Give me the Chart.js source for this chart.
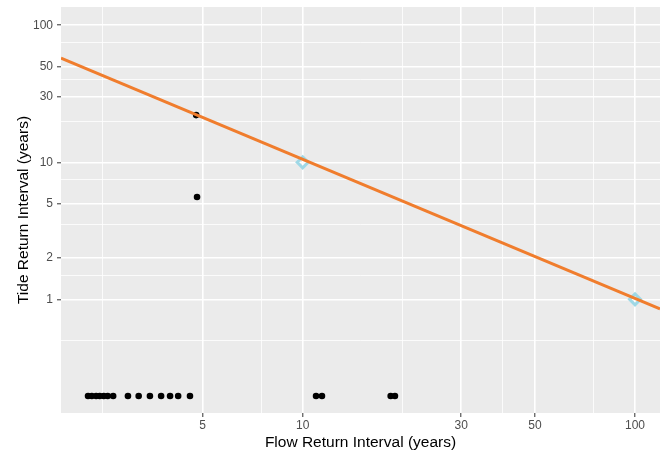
<!DOCTYPE html>
<html><head><meta charset="utf-8">
<script src="https://cdn.jsdelivr.net/npm/chart.js@4.4.1/dist/chart.umd.min.js"></script>
<style>html,body{margin:0;padding:0;background:#fff}#wrap{width:660px;height:456px;position:relative}</style>
</head><body><div id="wrap"><canvas id="c"></canvas></div>
<script>
// Observed events (flow return interval vs tide return interval, years)
const flowInterval = [2.26, 2.32, 2.39, 2.45, 2.52, 2.59, 2.69, 2.98, 3.21, 3.47, 3.75, 3.99, 4.22, 4.58, 4.78, 4.81, 10.97, 11.43, 18.4, 18.95];
const tideInterval = [0.197, 0.197, 0.197, 0.197, 0.197, 0.197, 0.197, 0.197, 0.197, 0.197, 0.197, 0.197, 0.197, 0.197, 22.1, 5.58, 0.197, 0.197, 0.197, 0.197];
// Reference design points (diamonds)
const refFlow = [10, 100];
const refTide = [10, 1];
// Orange joint-probability line endpoints
const fitFlow = [1.874, 118.9];
const fitTide = [57.7, 0.85];
// Axes
const xMajorTicks = [5, 10, 30, 50, 100];
const xMinorTicks = [2.5, 7.5, 20, 40, 75];
const yMajorTicks = [1, 2, 5, 10, 30, 50, 100];
const yMinorTicks = [0.5, 1.5, 3.5, 7.5, 20, 40, 75];
const xRange = [1.874, 118.9];
const yRange = [0.148, 136];
const xTitle = 'Flow Return Interval (years)';
const yTitle = 'Tide Return Interval (years)';

const FONT = "'Liberation Sans', Arial, Helvetica, sans-serif";

const toPts = (xs, ys) => xs.map((x, i) => ({x: x, y: ys[i]}));

const panelBg = {
  id: 'panelBg',
  beforeDraw(chart) {
    const {ctx, chartArea: a} = chart;
    ctx.save();
    ctx.fillStyle = '#ebebeb';
    ctx.fillRect(a.left, a.top, a.right - a.left, a.bottom - a.top);
    ctx.restore();
  }
};

function axisCfg(major, minor, range, title, isX) {
  const all = major.concat(minor).sort((a, b) => a - b);
  const isMajor = ctx => ctx.tick && major.includes(ctx.tick.value);
  return {
    type: 'logarithmic',
    min: range[0],
    max: range[1],
    bounds: 'data',
    afterBuildTicks: s => { s.ticks = all.map(v => ({value: v})); },
    afterFit: s => {
      if (isX) s.height = 43; else s.width = 61;
      s.paddingLeft = 0; s.paddingRight = 0; s.paddingTop = 0; s.paddingBottom = 0;
    },
    ticks: {
      autoSkip: false, maxRotation: 0, minRotation: 0,
      padding: isX ? 1 : 4,
      color: '#4d4d4d',
      font: {family: FONT, size: 12},
      callback: v => major.includes(v) ? String(v) : ''
    },
    grid: {
      color: '#ffffff',
      lineWidth: ctx => isMajor(ctx) ? 1.6 : 0.8,
      tickLength: 4,
      tickWidth: 1,
      tickColor: ctx => isMajor(ctx) ? '#333333' : 'rgba(0,0,0,0)'
    },
    border: {display: false},
    title: {
      display: true, text: title, color: '#000000',
      font: {family: FONT, size: 15.5},
      padding: isX ? {top: 0, bottom: 4.4} : {top: 14, bottom: 0}
    }
  };
}

new Chart(document.getElementById('c'), {
  type: 'scatter',
  data: {
    datasets: [
      {
        data: toPts(fitFlow, fitTide), showLine: true, pointRadius: 0,
        borderColor: '#f07d2d', borderWidth: 3, order: 0
      },
      {
        data: toPts(refFlow, refTide), pointStyle: 'rectRot', pointRadius: 5.5,
        borderColor: '#9fd8e6', backgroundColor: 'rgba(0,0,0,0)', borderWidth: 3, order: 1
      },
      {
        data: toPts(flowInterval, tideInterval), pointRadius: 3.3,
        backgroundColor: '#000000', borderWidth: 0, order: 2
      }
    ]
  },
  options: {
    responsive: true, maintainAspectRatio: false, animation: false,
    layout: {autoPadding: false, padding: {top: 7, left: 0, right: 0, bottom: 0}},
    plugins: {legend: {display: false}, tooltip: {enabled: false}},
    scales: {
      x: axisCfg(xMajorTicks, xMinorTicks, xRange, xTitle, true),
      y: axisCfg(yMajorTicks, yMinorTicks, yRange, yTitle, false)
    }
  },
  plugins: [panelBg]
});
</script></body></html>
